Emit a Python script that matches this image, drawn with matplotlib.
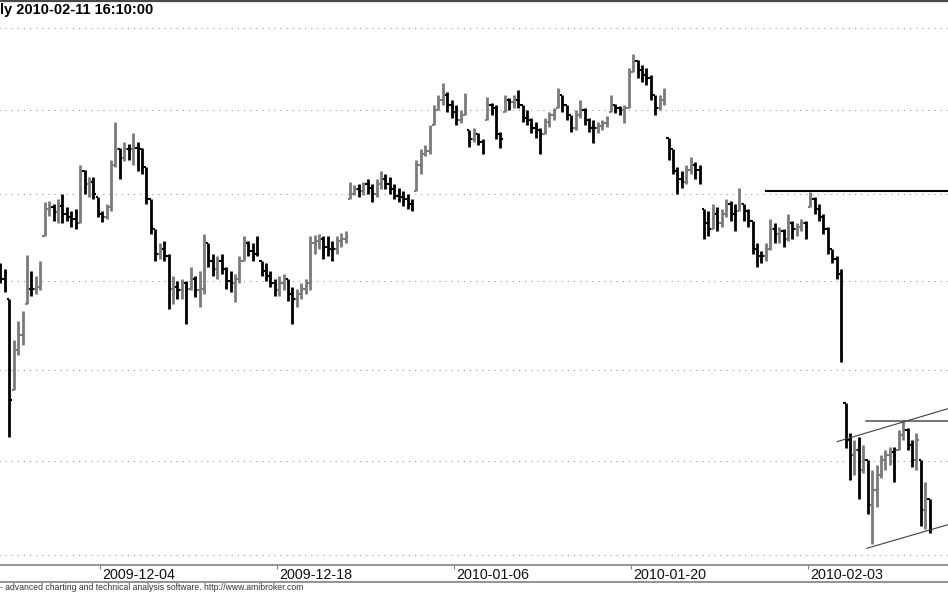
"""
plot.py - AmiBroker 风格的日内柱状图 (OHLC bars)

价格轴为对数刻度，每个交易日 4 根 K 线。
"""

from __future__ import annotations

import matplotlib
matplotlib.use("Agg")
import matplotlib.pyplot as plt
import matplotlib.transforms as mtransforms
from matplotlib.lines import Line2D
import numpy as np
import pandas as pd

plt.rcParams["font.family"] = ["Liberation Sans", "DejaVu Sans"]

# --- 数据 ---
TITLE = "ly 2010-02-11 16:10:00"
FOOTER = "- advanced charting and technical analysis software. http://www.amibroker.com"

FIRST_DAY = "2009-11-26"
LAST_DAY = "2010-02-11"
HOLIDAYS = ["2009-12-24", "2009-12-25", "2010-01-01"]
LABEL_DAYS = ["2009-12-04", "2009-12-18", "2010-01-06", "2010-01-20", "2010-02-03"]
BARS_PER_DAY = 4

GRID_LEVELS = [34, 35, 36, 37, 38, 39, 40]

# 每行一个交易日
HIGHS = [
    37.23, 37.20, 37.14, 36.79,
    36.33, 36.54, 36.66, 37.30,
    37.11, 37.05, 37.23, 37.91,
    37.92, 37.89, 37.94, 38.00,
    37.85, 37.80, 37.83, 38.35,
    38.29, 38.20, 38.20, 37.97,
    37.80, 37.89, 38.41, 38.86,
    38.55, 38.62, 38.59, 38.73,
    38.62, 38.55, 38.32, 37.94,
    37.60, 37.43, 37.46, 37.31,
    37.05, 37.00, 37.02, 37.00,
    37.16, 37.05, 37.11, 37.54,
    37.43, 37.31, 37.28, 37.31,
    37.16, 37.11, 37.08, 37.28,
    37.51, 37.46, 37.43, 37.52,
    37.23, 37.20, 37.11, 37.02,
    37.05, 37.08, 37.02, 36.93,
    36.91, 36.97, 37.02, 37.51,
    37.53, 37.54, 37.52, 37.51,
    37.46, 37.51, 37.55, 37.57,
    38.14, 38.11, 38.12, 38.15,
    38.18, 38.12, 38.18, 38.27,
    38.24, 38.20, 38.12, 38.08,
    38.04, 38.00, 37.94, 38.40,
    38.53, 38.58, 38.82, 39.06,
    39.18, 39.33, 39.22, 39.12,
    39.06, 39.00, 39.21, 38.76,
    38.79, 38.73, 38.65, 39.16,
    39.09, 39.06, 38.74, 39.18,
    39.15, 39.18, 39.24, 39.06,
    39.00, 38.91, 38.86, 38.79,
    38.91, 38.98, 39.02, 39.27,
    39.18, 39.06, 38.94, 39.00,
    39.12, 39.02, 38.91, 38.88,
    38.86, 38.88, 38.93, 39.18,
    39.07, 39.05, 39.06, 39.51,
    39.68, 39.61, 39.55, 39.51,
    39.43, 39.18, 39.18, 39.27,
    38.67, 38.53, 38.32, 38.27,
    38.35, 38.44, 38.38, 38.35,
    37.83, 37.80, 37.89, 37.85,
    37.83, 37.94, 37.92, 37.89,
    38.08, 37.89, 37.83, 37.69,
    37.43, 37.34, 37.43, 37.71,
    37.66, 37.62, 37.60, 37.77,
    37.69, 37.67, 37.71, 37.69,
    38.03, 37.97, 37.89, 37.77,
    37.62, 37.37, 37.28, 37.14,
    35.63, 35.30, 35.23, 35.26,
    35.17, 35.01, 34.90, 34.96,
    35.07, 35.12, 35.15, 35.15,
    35.34, 35.43, 35.36, 35.23,
    35.30, 35.01, 34.77, 34.59,
]

LOWS = [
    37.00, 36.97, 36.87, 35.26,
    35.77, 36.16, 36.28, 36.74,
    36.83, 36.85, 36.89, 37.51,
    37.75, 37.69, 37.66, 37.66,
    37.69, 37.62, 37.60, 37.66,
    38.00, 37.97, 37.94, 37.74,
    37.68, 37.71, 37.80, 38.32,
    38.18, 38.39, 38.41, 38.35,
    38.27, 38.24, 37.89, 37.54,
    37.23, 37.25, 37.23, 36.68,
    36.74, 36.79, 36.79, 36.51,
    36.89, 36.82, 36.70, 36.85,
    37.16, 37.05, 37.02, 37.08,
    36.91, 36.87, 36.76, 36.97,
    37.23, 37.28, 37.23, 37.28,
    37.05, 37.00, 36.93, 36.83,
    36.83, 36.89, 36.77, 36.51,
    36.70, 36.79, 36.85, 36.89,
    37.31, 37.37, 37.25, 37.28,
    37.23, 37.31, 37.39, 37.43,
    37.94, 37.99, 37.97, 37.99,
    38.00, 37.91, 37.97, 38.06,
    38.06, 38.00, 37.94, 37.91,
    37.86, 37.83, 37.80, 38.04,
    38.24, 38.45, 38.47, 38.82,
    39.00, 39.06, 38.98, 38.91,
    38.82, 38.85, 38.94, 38.56,
    38.62, 38.58, 38.47, 38.88,
    38.94, 38.65, 38.55, 38.98,
    39.00, 39.02, 39.02, 38.86,
    38.82, 38.73, 38.67, 38.47,
    38.71, 38.80, 38.88, 39.02,
    38.98, 38.88, 38.74, 38.76,
    38.91, 38.82, 38.74, 38.61,
    38.73, 38.76, 38.80, 38.98,
    38.96, 38.94, 38.85, 39.02,
    39.46, 39.39, 39.34, 39.30,
    39.12, 38.94, 39.00, 39.06,
    38.41, 38.24, 38.00, 38.08,
    38.12, 38.24, 38.18, 38.12,
    37.48, 37.51, 37.60, 37.57,
    37.62, 37.74, 37.69, 37.57,
    37.80, 37.69, 37.62, 37.31,
    37.16, 37.20, 37.23, 37.35,
    37.43, 37.43, 37.39, 37.46,
    37.48, 37.51, 37.57, 37.48,
    37.85, 37.77, 37.69, 37.54,
    37.31, 37.20, 37.02, 36.08,
    35.14, 34.80, 34.85, 34.59,
    34.87, 34.43, 34.11, 34.51,
    34.82, 34.90, 34.96, 34.77,
    35.12, 35.23, 35.12, 34.94,
    34.90, 34.30, 34.27, 34.23,
]

CLOSES = [
    37.11, 37.02, 36.91, 35.66,
    36.22, 36.39, 36.59, 36.91,
    36.91, 36.93, 37.14, 37.83,
    37.85, 37.79, 37.86, 37.77,
    37.74, 37.71, 37.66, 38.27,
    38.12, 38.15, 38.00, 37.77,
    37.74, 37.85, 38.35, 38.53,
    38.43, 38.53, 38.53, 38.55,
    38.53, 38.32, 37.94, 37.62,
    37.31, 37.37, 37.28, 36.91,
    36.93, 36.89, 36.97, 36.91,
    37.02, 36.89, 36.91, 37.43,
    37.23, 37.14, 37.23, 37.14,
    37.00, 36.97, 37.02, 37.23,
    37.43, 37.34, 37.31, 37.31,
    37.11, 37.05, 36.98, 36.89,
    36.97, 37.02, 36.85, 36.79,
    36.85, 36.91, 36.97, 37.43,
    37.46, 37.48, 37.39, 37.37,
    37.37, 37.46, 37.48, 37.53,
    38.00, 38.06, 38.04, 38.12,
    38.08, 38.00, 38.12, 38.18,
    38.12, 38.06, 37.98, 37.97,
    37.94, 37.89, 37.89, 38.35,
    38.47, 38.51, 38.76, 39.00,
    39.12, 39.18, 39.06, 38.98,
    38.88, 38.94, 39.15, 38.65,
    38.71, 38.62, 38.53, 39.06,
    39.02, 38.71, 38.65, 39.12,
    39.10, 39.12, 39.06, 38.91,
    38.88, 38.79, 38.76, 38.71,
    38.86, 38.94, 38.98, 39.18,
    39.06, 38.94, 38.79, 38.94,
    39.00, 38.88, 38.79, 38.79,
    38.81, 38.84, 38.91, 39.06,
    39.02, 39.00, 39.02, 39.43,
    39.59, 39.49, 39.43, 39.39,
    39.18, 39.02, 39.12, 39.18,
    38.53, 38.27, 38.18, 38.15,
    38.29, 38.35, 38.29, 38.24,
    37.66, 37.60, 37.77, 37.66,
    37.77, 37.89, 37.77, 37.77,
    37.89, 37.80, 37.69, 37.37,
    37.28, 37.28, 37.37, 37.60,
    37.54, 37.57, 37.48, 37.66,
    37.60, 37.62, 37.66, 37.62,
    37.94, 37.83, 37.74, 37.60,
    37.37, 37.25, 37.08, 36.16,
    35.23, 35.07, 35.12, 34.90,
    35.01, 34.53, 34.69, 34.85,
    35.01, 35.07, 35.10, 35.07,
    35.28, 35.34, 35.17, 35.01,
    35.23, 34.48, 34.64, 34.28,
]

# 手绘趋势线：(K 线序号, 价格)
RESIST_BARS = [174.0, 215.2]
RESIST_PRICES = [38.04, 38.04]
TOP_FLAT_BARS = [196.6, 215.2]
TOP_FLAT_PRICES = [35.43, 35.43]
CHANNEL_UP_BARS = [190.1, 215.2]
CHANNEL_UP_PRICES = [35.21, 35.57]
CHANNEL_DN_BARS = [196.8, 215.2]
CHANNEL_DN_PRICES = [34.07, 34.32]

# --- 版式（像素） ---
W, H = 948, 593
PLOT_TOP, PLOT_BOTTOM, STRIP_BOTTOM = 3, 565, 582


def fy(px: float) -> float:
    """像素行 -> figure 坐标。"""
    return 1 - px / H


def draw_bars(ax, highs, lows, closes) -> None:
    """画 OHLC 柱：开盘取前一根收盘（夹在高低之间）。"""
    hi = np.asarray(highs)
    lo = np.asarray(lows)
    cl = np.asarray(closes)
    op = np.clip(np.concatenate([[cl[0]], cl[:-1]]), lo, hi)
    x = np.arange(len(cl))
    colors = np.where(cl > op, "#7a7a7a", "#000000")

    ax.vlines(x, lo, hi, colors=colors, lw=2.0)
    ax.hlines(op, x - 0.5, x, colors=colors, lw=1.5)
    ax.hlines(cl, x, x + 0.5, colors=colors, lw=1.5)


def main() -> None:
    fig = plt.figure(figsize=(W / 100, H / 100), dpi=100)
    ax = fig.add_axes([0, fy(PLOT_BOTTOM), 1, (PLOT_BOTTOM - PLOT_TOP) / H])

    ax.set_yscale("log")
    ax.set_xlim(0.9, 215.15)
    ax.set_ylim(33.895, 40.31)

    # 虚线网格
    ax.hlines(GRID_LEVELS, 0, 216, colors="#9a9a9a", lw=0.8, linestyles=(0, (1, 4.5)))

    draw_bars(ax, HIGHS, LOWS, CLOSES)

    ax.plot(RESIST_BARS, RESIST_PRICES, color="black", lw=1.5)
    ax.plot(TOP_FLAT_BARS, TOP_FLAT_PRICES, color="#505050", lw=1.1)
    ax.plot(CHANNEL_UP_BARS, CHANNEL_UP_PRICES, color="#404040", lw=0.8)
    ax.plot(CHANNEL_DN_BARS, CHANNEL_DN_PRICES, color="#404040", lw=0.8)

    # 日期刻度：标在每个交易日的第一根 K 线前
    days = pd.bdate_range(FIRST_DAY, LAST_DAY)
    days = days[~days.isin(pd.to_datetime(HOLIDAYS))]
    day_idx = [days.get_loc(pd.Timestamp(d)) for d in LABEL_DAYS]
    tick_pos = [i * BARS_PER_DAY - 0.5 for i in day_idx]

    ax.set_xticks(tick_pos, LABEL_DAYS)
    ax.yaxis.set_visible(False)
    ax.minorticks_off()
    ax.tick_params(axis="x", direction="out", length=2.8, width=0.8,
                   color="#808080", pad=0.0, labelsize=10.3, labelcolor="#111111")
    offset = mtransforms.ScaledTranslation(2 / 100, 1 / 100, fig.dpi_scale_trans)
    for label in ax.get_xticklabels():
        label.set_horizontalalignment("left")
        label.set_transform(label.get_transform() + offset)

    for side in ("left", "right", "top"):
        ax.spines[side].set_visible(False)
    ax.spines["bottom"].set_color("#808080")
    ax.spines["bottom"].set_linewidth(1.2)

    # 外框线、标题、底注
    fig.add_artist(Line2D([0, 1], [fy(0.8), fy(0.8)], color="#4a4a4a", lw=1.6))
    fig.add_artist(Line2D([0, 1], [fy(STRIP_BOTTOM), fy(STRIP_BOTTOM)], color="#808080", lw=1.2))
    fig.text(0, fy(3), TITLE, ha="left", va="top", fontsize=10.5, fontweight="bold")
    fig.text(0, fy(587.5), FOOTER, ha="left", va="center", fontsize=6.2, color="#333333")

    fig.savefig("out.png", dpi=100)
    plt.close(fig)


if __name__ == "__main__":
    main()
